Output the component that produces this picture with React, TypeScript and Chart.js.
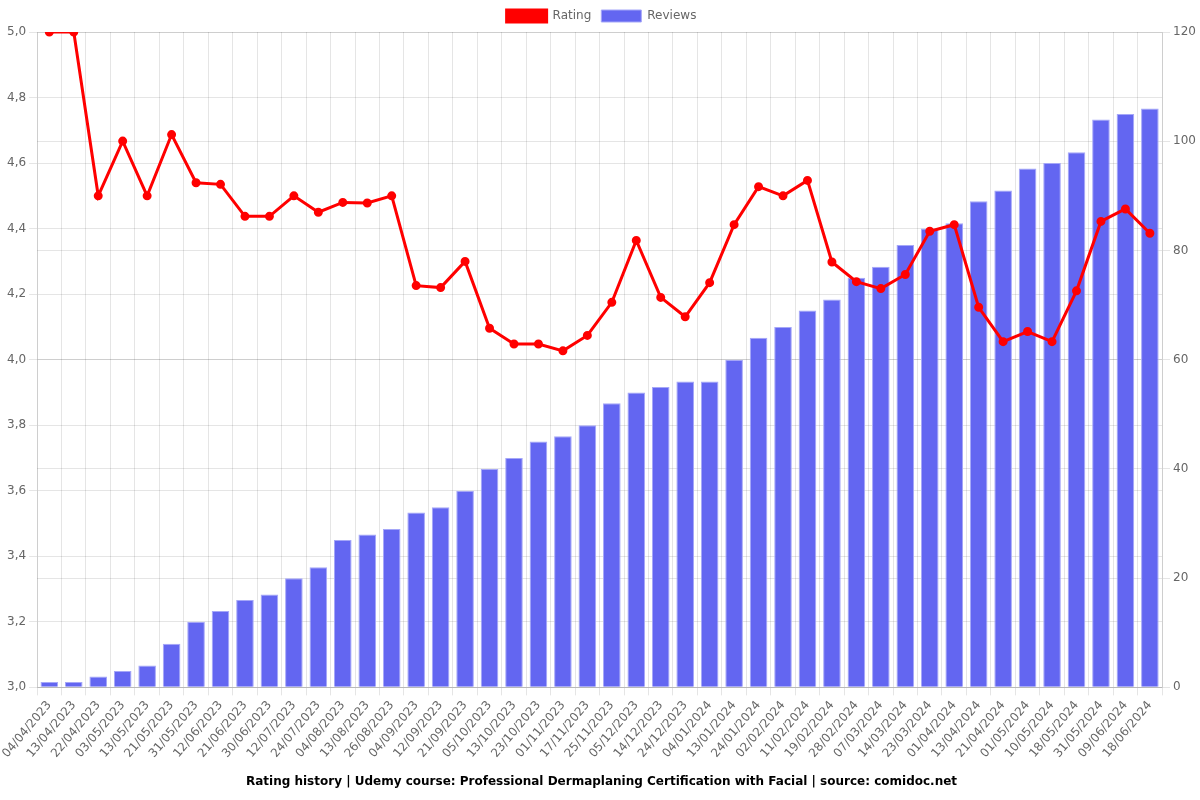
import React, { useEffect, useRef } from "react";
import { Chart, registerables } from "chart.js";

Chart.register(...registerables);

const dates = [
  "04/04/2023", "13/04/2023", "22/04/2023", "03/05/2023", "13/05/2023", "21/05/2023",
  "31/05/2023", "12/06/2023", "21/06/2023", "30/06/2023", "12/07/2023", "24/07/2023",
  "04/08/2023", "13/08/2023", "26/08/2023", "04/09/2023", "12/09/2023", "21/09/2023",
  "05/10/2023", "13/10/2023", "23/10/2023", "01/11/2023", "17/11/2023", "25/11/2023",
  "05/12/2023", "14/12/2023", "24/12/2023", "04/01/2024", "13/01/2024", "24/01/2024",
  "02/02/2024", "11/02/2024", "19/02/2024", "28/02/2024", "07/03/2024", "14/03/2024",
  "23/03/2024", "01/04/2024", "13/04/2024", "21/04/2024", "01/05/2024", "10/05/2024",
  "18/05/2024", "31/05/2024", "09/06/2024", "18/06/2024",
];

const rating = [
  5.0, 5.0, 4.5, 4.667, 4.5, 4.687, 4.54, 4.535, 4.4375, 4.4375, 4.5, 4.45,
  4.48, 4.478, 4.5, 4.226, 4.22, 4.3, 4.096, 4.048, 4.048, 4.027, 4.074, 4.175,
  4.364, 4.19, 4.131, 4.235, 4.412, 4.528, 4.5, 4.547, 4.298, 4.238, 4.217, 4.26,
  4.392, 4.412, 4.16, 4.055, 4.086, 4.055, 4.21, 4.422, 4.46, 4.386,
];

const reviews = [
  1, 1, 2, 3, 4, 8, 12, 14, 16, 17, 20, 22,
  27, 28, 29, 32, 33, 36, 40, 42, 45, 46, 48, 52,
  54, 55, 56, 56, 60, 64, 66, 69, 71, 75, 77, 81,
  84, 85, 89, 91, 95, 96, 98, 104, 105, 106,
];

const ratingTicks = { min: 3, max: 5, step: 0.2 };
const reviewTicks = { min: 0, max: 120, step: 20 };

const titleText =
  "Rating history | Udemy course: Professional Dermaplaning Certification with Facial | source: comidoc.net";

export default function App() {
  const ref = useRef<HTMLCanvasElement | null>(null);

  useEffect(() => {
    document.body.style.margin = "0";
    if (!ref.current) return;
    Chart.defaults.font.family = "'DejaVu Sans', sans-serif";
    Chart.defaults.color = "#666";
    const chart = new Chart(ref.current, {
      type: "bar",
      data: {
        labels: dates,
        datasets: [
          {
            type: "line",
            label: "Rating",
            data: rating,
            borderColor: "#ff0000",
            backgroundColor: "#ff0000",
            borderWidth: 3,
            pointRadius: 3,
            pointBackgroundColor: "#ff0000",
            pointBorderColor: "#ff0000",
            tension: 0,
            yAxisID: "y",
          } as any,
          {
            type: "bar",
            label: "Reviews",
            data: reviews,
            backgroundColor: "#6366f1",
            borderColor: "rgba(165,167,248,1)",
            borderWidth: 1,
            yAxisID: "y1",
          },
        ],
      },
      options: {
        animation: false,
        responsive: false,
        maintainAspectRatio: false,
        layout: { padding: { left: 4, right: 1 } },
        plugins: {
          legend: {
            position: "top",
            labels: { boxWidth: 40, font: { size: 12 } },
          },
          title: {
            display: true,
            text: titleText,
            position: "bottom",
            color: "#000",
            font: { size: 12, weight: "bold" },
            padding: { top: 11, bottom: 11 },
          },
          tooltip: { enabled: false },
        },
        scales: {
          x: {
            grid: { color: "rgba(0,0,0,0.1)" },
            ticks: { font: { size: 12 }, maxRotation: 50, minRotation: 50, autoSkip: false },
          },
          y: {
            position: "left",
            min: ratingTicks.min,
            max: ratingTicks.max,
            ticks: {
              stepSize: ratingTicks.step,
              callback: (v: any) => Number(v).toFixed(1).replace(".", ","),
            },
            grid: { color: "rgba(0,0,0,0.1)" },
          },
          y1: {
            position: "right",
            min: reviewTicks.min,
            max: reviewTicks.max,
            ticks: { stepSize: reviewTicks.step },
            grid: { color: "rgba(0,0,0,0.1)" },
          },
        },
      },
    });
    return () => chart.destroy();
  }, []);

  return (
    <div style={{ width: 1200, height: 800 }}>
      <canvas ref={ref} width={1200} height={800} style={{ display: "block" }} />
    </div>
  );
}
